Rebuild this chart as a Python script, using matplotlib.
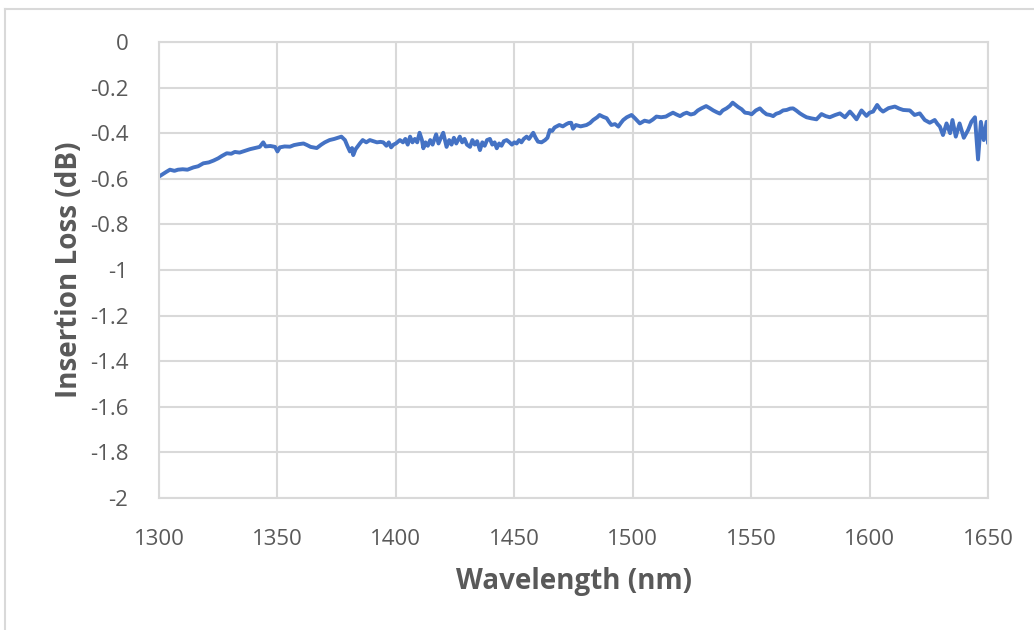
import matplotlib
matplotlib.use("Agg")
import matplotlib.pyplot as plt
from matplotlib.lines import Line2D

# wavelength (nm) and insertion loss (dB)
wavelength = [
    1300, 1301.5, 1303, 1304.6, 1306.5, 1308, 1310, 1312, 1314.5, 1316.5,
    1318.7, 1321, 1323, 1325, 1326.5, 1328.6, 1330.5, 1332, 1334, 1336,
    1338.4, 1340.5, 1342.5, 1344, 1345, 1347, 1349, 1350, 1351, 1353,
    1355.3, 1357, 1359, 1361, 1362.5, 1364, 1366.6, 1368.5, 1370, 1372,
    1374, 1375.5, 1377, 1378.5, 1379.5, 1380.6, 1381.5, 1382, 1383, 1384.8,
    1386, 1387.5, 1389, 1390.5, 1392, 1393.5, 1394.7, 1396, 1397, 1398,
    1399, 1400, 1401.7, 1403, 1404, 1405, 1406, 1407, 1408, 1409,
    1410, 1411, 1411.6, 1412.5, 1413.5, 1414.5, 1415.5, 1417, 1418, 1419,
    1420, 1421.4, 1422.5, 1423.5, 1424.5, 1425.5, 1427, 1428, 1429, 1430,
    1431.3, 1432.3, 1433.3, 1434.3, 1435.5, 1436.5, 1437.5, 1438.5, 1439.7, 1440.7,
    1441.7, 1442.6, 1443.6, 1444.6, 1445.6, 1446.8, 1448, 1449, 1450, 1451,
    1452, 1453, 1454, 1455.2, 1456.2, 1457.2, 1458, 1459, 1460, 1461.5,
    1463, 1464, 1465, 1466, 1467, 1469, 1470.5, 1472, 1473, 1474,
    1474.8, 1476, 1478, 1480.5, 1482, 1483.3, 1485, 1486, 1487.5, 1489,
    1490, 1491, 1492.5, 1493.9, 1495, 1496, 1497.5, 1499.5, 1501, 1503,
    1505, 1507, 1508.5, 1510, 1512, 1514, 1515.5, 1517, 1518.5, 1520,
    1521.5, 1522.8, 1524.5, 1526, 1527.5, 1529, 1531, 1532.5, 1534, 1535.5,
    1536.8, 1538, 1539.6, 1541, 1542.2, 1543.3, 1544.5, 1546, 1547.4, 1549,
    1550.2, 1552, 1553.7, 1555, 1556.5, 1558, 1559.3, 1560.5, 1562, 1563.5,
    1565, 1566.5, 1567.7, 1569, 1570.6, 1572, 1573.4, 1575.5, 1577.6, 1579.7,
    1581.5, 1583.2, 1585.5, 1587.5, 1589.6, 1591.7, 1593, 1594.5, 1596.6, 1598.7,
    1600, 1601.5, 1603.2, 1604.5, 1605.7, 1608, 1610.7, 1612.5, 1614.2, 1617,
    1619, 1621.2, 1623.3, 1625.4, 1627.5, 1628.7, 1629.7, 1631, 1632.5, 1634,
    1635, 1636.4, 1638, 1639.8, 1641.6, 1643, 1644.5, 1645.8, 1647, 1648.2,
    1649.4, 1650,
]
loss = [
    -0.59, -0.58, -0.57, -0.56, -0.565, -0.56, -0.558, -0.56, -0.55, -0.545,
    -0.532, -0.528, -0.52, -0.51, -0.50, -0.488, -0.49, -0.482, -0.485, -0.478,
    -0.47, -0.465, -0.46, -0.44, -0.458, -0.456, -0.46, -0.48, -0.462, -0.458,
    -0.459, -0.452, -0.448, -0.445, -0.452, -0.46, -0.465, -0.45, -0.44, -0.43,
    -0.425, -0.42, -0.415, -0.43, -0.455, -0.48, -0.465, -0.496, -0.47, -0.445,
    -0.43, -0.44, -0.43, -0.435, -0.44, -0.438, -0.44, -0.455, -0.44, -0.462,
    -0.45, -0.445, -0.43, -0.44, -0.425, -0.45, -0.415, -0.44, -0.425, -0.44,
    -0.398, -0.43, -0.466, -0.44, -0.455, -0.43, -0.45, -0.405, -0.445, -0.42,
    -0.398, -0.46, -0.43, -0.45, -0.42, -0.445, -0.415, -0.44, -0.425, -0.45,
    -0.46, -0.43, -0.45, -0.435, -0.474, -0.44, -0.455, -0.43, -0.425, -0.45,
    -0.44, -0.466, -0.445, -0.455, -0.435, -0.43, -0.44, -0.45, -0.44, -0.445,
    -0.43, -0.44, -0.425, -0.415, -0.425, -0.41, -0.398, -0.42, -0.437, -0.44,
    -0.43, -0.42, -0.386, -0.39, -0.375, -0.364, -0.37, -0.36, -0.355, -0.354,
    -0.38, -0.364, -0.37, -0.364, -0.355, -0.342, -0.33, -0.32, -0.328, -0.334,
    -0.35, -0.364, -0.36, -0.371, -0.355, -0.342, -0.33, -0.32, -0.335, -0.357,
    -0.345, -0.35, -0.34, -0.327, -0.33, -0.327, -0.318, -0.31, -0.318, -0.325,
    -0.315, -0.31, -0.318, -0.314, -0.30, -0.291, -0.281, -0.29, -0.30, -0.308,
    -0.314, -0.30, -0.291, -0.28, -0.266, -0.275, -0.285, -0.295, -0.31, -0.312,
    -0.317, -0.30, -0.291, -0.305, -0.317, -0.32, -0.325, -0.315, -0.31, -0.30,
    -0.298, -0.292, -0.291, -0.30, -0.313, -0.322, -0.33, -0.335, -0.339, -0.316,
    -0.325, -0.33, -0.32, -0.313, -0.33, -0.305, -0.32, -0.339, -0.30, -0.324,
    -0.31, -0.305, -0.276, -0.295, -0.305, -0.29, -0.283, -0.292, -0.298, -0.30,
    -0.32, -0.313, -0.342, -0.354, -0.342, -0.36, -0.371, -0.408, -0.357, -0.40,
    -0.342, -0.415, -0.357, -0.42, -0.386, -0.35, -0.33, -0.515, -0.35, -0.43,
    -0.35, -0.44,
]

x_ticks = [1300, 1350, 1400, 1450, 1500, 1550, 1600, 1650]
y_ticks = [0, -0.2, -0.4, -0.6, -0.8, -1, -1.2, -1.4, -1.6, -1.8, -2]

plt.rcParams["font.family"] = ["Open Sans", "DejaVu Sans"]
grid_col = "#D9D9D9"
text_col = "#595959"

fig = plt.figure(figsize=(10.34, 6.3), dpi=100)
ax = fig.add_axes([0.1538, 0.2095, 0.8017, 0.7238])

ax.plot(wavelength, loss, color="#4472C4", linewidth=2.8, solid_joinstyle="round")

ax.set_xlim(1300, 1650)
ax.set_ylim(-2, 0)
ax.set_xticks(x_ticks)
ax.set_yticks(y_ticks)
ax.set_yticklabels([f"{v:g}" for v in y_ticks])
ax.grid(True, color=grid_col, linewidth=1.5)
ax.set_axisbelow(True)
for s in ax.spines.values():
    s.set_color(grid_col)
    s.set_linewidth(1.5)
ax.tick_params(length=0, labelsize=16, labelcolor=text_col)
ax.tick_params(axis="y", pad=22)
ax.tick_params(axis="x", pad=22)

ax.set_xlabel("Wavelength (nm)", fontsize=20, fontweight="bold", color=text_col)
ax.set_ylabel("Insertion Loss (dB)", fontsize=20, fontweight="bold", color=text_col)
ax.xaxis.set_label_coords(0.5, -0.182)
ax.xaxis.label.set_va("center")
ax.yaxis.set_label_coords(-0.108, 0.5)
ax.yaxis.label.set_va("center")

# chart-area border (only left and top edges visible)
fig.add_artist(Line2D([0.0053, 0.0053], [0, 0.9865], color=grid_col, linewidth=1.5, transform=fig.transFigure))
fig.add_artist(Line2D([0.0053, 1], [0.9865, 0.9865], color=grid_col, linewidth=1.5, transform=fig.transFigure))

fig.savefig("out.png", dpi=100)
